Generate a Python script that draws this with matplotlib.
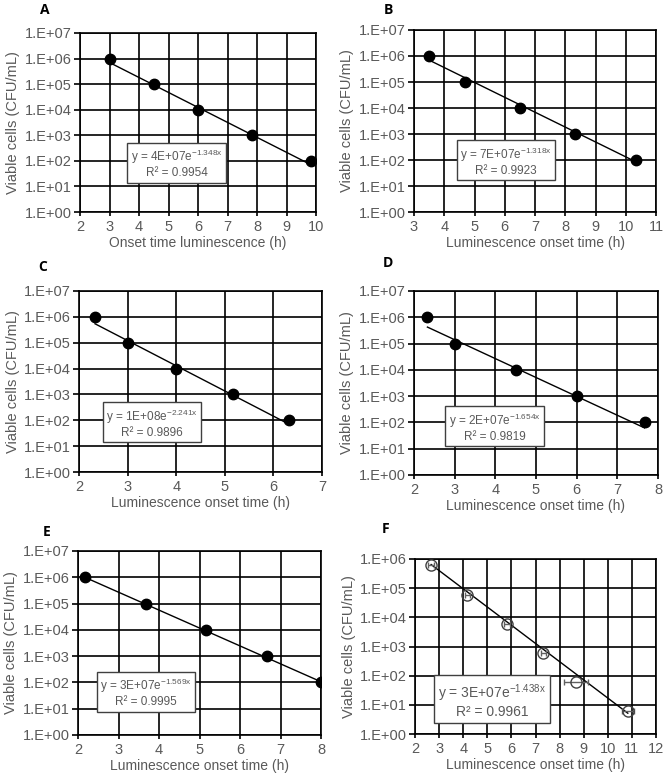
import numpy as np
import matplotlib
matplotlib.use("Agg")
import matplotlib.pyplot as plt

plt.rcParams['font.family'] = ['Liberation Sans', 'DejaVu Sans']
plt.rcParams['mathtext.fontset'] = 'custom'
plt.rcParams['mathtext.rm'] = 'Liberation Sans'
plt.rcParams['mathtext.it'] = 'Liberation Sans'

W, H = 666, 777

# panel data
a_x = [3.0, 4.5, 6.0, 7.83, 9.83]
a_y = [1e6, 1e5, 1e4, 1e3, 1e2]
b_x = [3.5, 4.67, 6.5, 8.33, 10.33]
b_y = [1e6, 1e5, 1e4, 1e3, 1e2]
c_x = [2.33, 3.0, 4.0, 5.17, 6.33]
c_y = [1e6, 1e5, 1e4, 1e3, 1e2]
d_x = [2.33, 3.0, 4.5, 6.0, 7.67]
d_y = [1e6, 1e5, 1e4, 1e3, 1e2]
e_x = [2.17, 3.67, 5.17, 6.67, 8.0]
e_y = [1e6, 1e5, 1e4, 1e3, 1e2]
f_x = [2.67, 4.17, 5.83, 7.33, 8.67, 10.83]
f_y = [6e5, 6e4, 6e3, 6e2, 6e1, 6]
f_xerr = [0.12, 0.1, 0.12, 0.1, 0.5, 0.25]

# trendline coefficients (y = a * exp(b x)) and R²
fits = {
    'A': (4e7, -1.348, '4E+07', '-1.348x', '0.9954'),
    'B': (7e7, -1.318, '7E+07', '-1.318x', '0.9923'),
    'C': (1e8, -2.241, '1E+08', '-2.241x', '0.9896'),
    'D': (2e7, -1.654, '2E+07', '-1.654x', '0.9819'),
    'E': (3e7, -1.569, '3E+07', '-1.569x', '0.9995'),
    'F': (3e7, -1.438, '3E+07', '-1.438x', '0.9961'),
}

xlabels = {
    'A': 'Onset time luminescence (h)',
    'B': 'Luminescence onset time (h)',
    'C': 'Luminescence onset time (h)',
    'D': 'Luminescence onset time (h)',
    'E': 'Luminescence onset time (h)',
    'F': 'Luminescence onset time (h)',
}

# pixel boxes: left, right, top, bottom
boxes = {
    'A': (80, 316, 33, 212),
    'B': (414, 656, 30, 212),
    'C': (79, 322, 291, 472),
    'D': (414, 658, 291, 475),
    'E': (78, 321, 551, 735),
    'F': (415, 656, 559, 734),
}
xlims = {'A': (2, 10), 'B': (3, 11), 'C': (2, 7), 'D': (2, 8), 'E': (2, 8), 'F': (2, 12)}
letter_pos = {'A': (45, 10), 'B': (388, 10), 'C': (43, 267), 'D': (388, 263),
              'E': (47, 532), 'F': (386, 529)}
eq_pos = {'A': (0.41, 0.27), 'B': (0.38, 0.28), 'C': (0.30, 0.27),
          'D': (0.33, 0.26), 'E': (0.28, 0.23), 'F': (0.32, 0.19)}
eq_size = {'A': 8.5, 'B': 8.5, 'C': 8.5, 'D': 8.5, 'E': 8.5, 'F': 10}

data = {'A': (a_x, a_y), 'B': (b_x, b_y), 'C': (c_x, c_y),
        'D': (d_x, d_y), 'E': (e_x, e_y), 'F': (f_x, f_y)}

grey = '#595959'
fig = plt.figure(figsize=(W / 100, H / 100), dpi=100)

for key in 'ABCDEF':
    l, r, t, b = boxes[key]
    ax = fig.add_axes([l / W, 1 - b / H, (r - l) / W, (b - t) / H])
    x, y = data[key]
    a, k, a_txt, k_txt, r2 = fits[key]
    xs = np.linspace(min(x), max(x), 100)
    ax.plot(xs, a * np.exp(k * xs), color='black', lw=1.0, zorder=3)
    if key == 'F':
        ax.errorbar(x, y, xerr=f_xerr, fmt='o', mfc='none', mec='#404040',
                    ms=8, mew=1.0, ecolor='#606060', elinewidth=1, capsize=2, zorder=4)
        ytop = 6
    else:
        ax.plot(x, y, 'o', color='black', ms=7.5, zorder=4)
        ytop = 7
    ax.set_yscale('log')
    ax.set_ylim(1, 10 ** ytop)
    ax.set_xlim(*xlims[key])
    ax.set_yticks([10 ** i for i in range(ytop + 1)])
    ax.set_yticklabels([f'1.E+{i:02d}' for i in range(ytop + 1)])
    ax.minorticks_off()
    ax.set_xticks(range(xlims[key][0], xlims[key][1] + 1))
    ax.grid(True, color='black', lw=1.2)
    ax.set_axisbelow(True)
    for s in ax.spines.values():
        s.set_color('black')
        s.set_linewidth(1.2)
    ax.tick_params(axis='both', labelsize=10.5, labelcolor=grey, color='black',
                   length=4, width=1.2, pad=2)
    ax.tick_params(axis='x', length=3, pad=3)
    ax.set_xlabel(xlabels[key], fontsize=10, color=grey, labelpad=1)
    ax.set_ylabel('Viable cells (CFU/mL)', fontsize=10.5, color=grey, labelpad=3)
    ex, ey = eq_pos[key]
    ax.text(ex, ey, f'y = {a_txt}e$^{{\\mathrm{{{k_txt}}}}}$\nR² = {r2}', transform=ax.transAxes,
            ha='center', va='center', fontsize=eq_size[key], color=grey, linespacing=1.1,
            bbox=dict(boxstyle='square,pad=0.3', fc='white', ec='#404040', lw=1.0),
            zorder=5)
    lx, ly = letter_pos[key]
    fig.text(lx / W, 1 - ly / H, key, fontsize=10, fontweight='bold',
             ha='center', va='center', family=['Open Sans', 'DejaVu Sans'])

fig.savefig('out.png', dpi=100)
